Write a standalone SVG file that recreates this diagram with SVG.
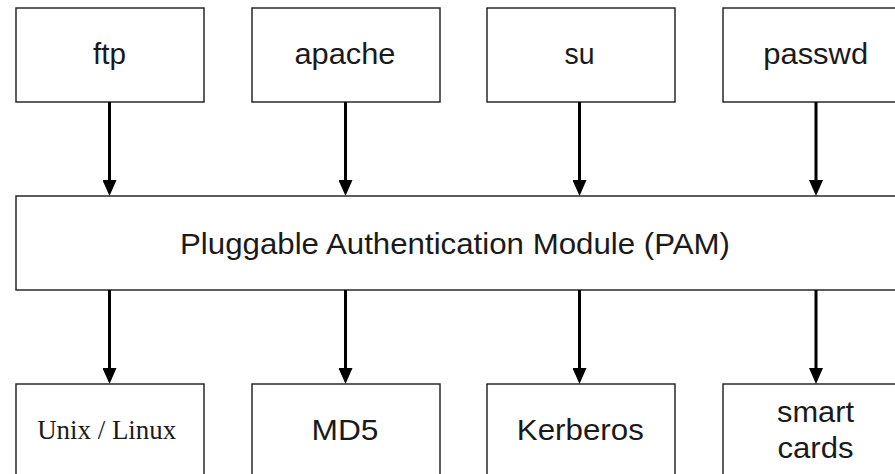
<svg xmlns="http://www.w3.org/2000/svg" width="895" height="474" viewBox="0 0 895 474">
  <style>
    .box { fill: #ffffff; stroke: #1a1a1a; stroke-width: 1.4; }
    .lbl { font-family: "Liberation Sans", Arial, sans-serif; font-size: 30px; fill: #1a1a1a; text-anchor: middle; }
    .serif { font-family: "Liberation Serif", "Times New Roman", serif; font-size: 27px; fill: #1a1a1a; text-anchor: middle; }
    .conn { stroke: #000; stroke-width: 3; fill: none; marker-end: url(#arrow); }
  </style>
  <defs>
    <marker id="arrow" markerUnits="userSpaceOnUse" viewBox="0 0 16 14" markerWidth="16" markerHeight="14" refX="0" refY="7" orient="auto">
      <path d="M0,0 L16,7 L0,14 z" fill="#000"/>
    </marker>
  </defs>
  <rect width="895" height="474" fill="#ffffff"/>

  <g id="ftp">
    <rect class="box" x="16" y="8" width="188" height="94"/>
    <text class="lbl" x="109.5" y="64" textLength="33" lengthAdjust="spacingAndGlyphs">ftp</text>
  </g>
  <g id="apache">
    <rect class="box" x="252" y="8" width="188" height="94"/>
    <text class="lbl" x="345" y="64" textLength="101" lengthAdjust="spacingAndGlyphs">apache</text>
  </g>
  <g id="su">
    <rect class="box" x="487" y="8" width="188" height="94"/>
    <text class="lbl" x="579.5" y="64" textLength="30" lengthAdjust="spacingAndGlyphs">su</text>
  </g>
  <g id="passwd">
    <rect class="box" x="723" y="8" width="188" height="94"/>
    <text class="lbl" x="815.7" y="64" textLength="105" lengthAdjust="spacingAndGlyphs">passwd</text>
  </g>

  <g id="pam">
    <rect class="box" x="16" y="196" width="900" height="94"/>
    <text class="lbl" x="455" y="254" textLength="550" lengthAdjust="spacingAndGlyphs">Pluggable Authentication Module (PAM)</text>
  </g>

  <g id="unix">
    <rect class="box" x="16" y="384" width="188" height="100"/>
    <text class="serif" x="106.7" y="439" textLength="139" lengthAdjust="spacingAndGlyphs">Unix / Linux</text>
  </g>
  <g id="md5">
    <rect class="box" x="252" y="384" width="188" height="100"/>
    <text class="lbl" x="345" y="440" textLength="67" lengthAdjust="spacingAndGlyphs">MD5</text>
  </g>
  <g id="kerberos">
    <rect class="box" x="487" y="384" width="188" height="100"/>
    <text class="lbl" x="580.3" y="440" textLength="127" lengthAdjust="spacingAndGlyphs">Kerberos</text>
  </g>
  <g id="smartcards">
    <rect class="box" x="723" y="384" width="188" height="100"/>
    <text class="lbl" x="815.5" y="422" textLength="77" lengthAdjust="spacingAndGlyphs">smart</text>
    <text class="lbl" x="815.5" y="458" textLength="76" lengthAdjust="spacingAndGlyphs">cards</text>
  </g>

  <g id="connectors">
    <line class="conn" x1="109.5" y1="102" x2="109.5" y2="180"/>
    <line class="conn" x1="345.5" y1="102" x2="345.5" y2="180"/>
    <line class="conn" x1="579.5" y1="102" x2="579.5" y2="180"/>
    <line class="conn" x1="816" y1="102" x2="816" y2="180"/>
    <line class="conn" x1="109.5" y1="290" x2="109.5" y2="368"/>
    <line class="conn" x1="345.5" y1="290" x2="345.5" y2="368"/>
    <line class="conn" x1="579.5" y1="290" x2="579.5" y2="368"/>
    <line class="conn" x1="816" y1="290" x2="816" y2="368"/>
  </g>
</svg>
